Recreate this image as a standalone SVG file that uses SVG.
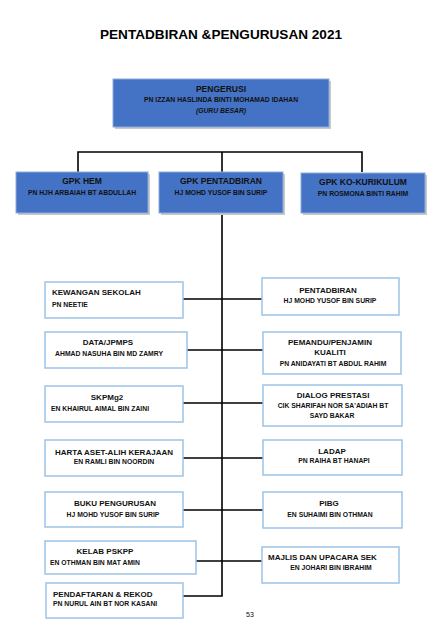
<svg xmlns="http://www.w3.org/2000/svg" width="432" height="635" viewBox="0 0 432 635">
<style>
text{font-family:"Liberation Sans",Arial,sans-serif;fill:#111;font-weight:bold}
.t{font-size:12.5px;fill:#000}
.h{font-size:8px}
.hb{font-size:8.5px}
.n{font-size:6.8px}
.m{text-anchor:middle}
.i{font-style:italic}
.blue{fill:#4472C4;stroke:#8EAADB;stroke-width:1}
.sh{fill:#c9c9c9}
.box{fill:#fff;stroke:#9DC3E6;stroke-width:1.5}
.ln{stroke:#000;stroke-width:1.6;fill:none}
.pg{font-size:7px;font-weight:normal}
</style>
<rect width="432" height="635" fill="#fff"/>
<text class="t m" x="221" y="39" textLength="242" lengthAdjust="spacingAndGlyphs">PENTADBIRAN &amp;PENGURUSAN 2021</text>

<g id="connectors">
<path class="ln" d="M78 172V152H362V172M222 152V172"/>
<path class="ln" d="M222 213V596H183"/>
<path class="ln" d="M183 299H262M187 350H263M183 403H263M183 458H263M183 510H263M196 561H262"/>
</g>

<g id="pengerusi">
<rect class="sh" x="115" y="81" width="216" height="48"/>
<rect class="blue" x="113" y="79" width="216" height="48"/>
<text class="hb m" x="221" y="92">PENGERUSI</text>
<text class="n m" x="221" y="102">PN IZZAN HASLINDA BINTI MOHAMAD IDAHAN</text>
<text class="n m i" x="221" y="113">(GURU BESAR)</text>
</g>

<g id="gpk-hem">
<rect class="sh" x="18" y="174" width="132" height="41"/>
<rect class="blue" x="16" y="172" width="132" height="41"/>
<text class="hb m" x="82" y="184">GPK HEM</text>
<text class="n m" x="82" y="195">PN HJH ARBAIAH BT ABDULLAH</text>
</g>

<g id="gpk-pentadbiran">
<rect class="sh" x="161" y="174" width="124" height="41"/>
<rect class="blue" x="159" y="172" width="124" height="41"/>
<text class="hb m" x="221" y="184">GPK PENTADBIRAN</text>
<text class="n m" x="221" y="195">HJ MOHD YUSOF BIN SURIP</text>
</g>

<g id="gpk-kokurikulum">
<rect class="sh" x="303" y="175" width="124" height="40"/>
<rect class="blue" x="301" y="173" width="124" height="40"/>
<text class="hb m" x="363" y="185">GPK KO-KURIKULUM</text>
<text class="n m" x="363" y="196">PN ROSMONA BINTI RAHIM</text>
</g>

<g id="kewangan">
<rect class="box" x="45" y="282" width="138" height="36"/>
<text class="h" x="52" y="295">KEWANGAN SEKOLAH</text>
<text class="n" x="52" y="307">PN NEETIE</text>
</g>

<g id="data">
<rect class="box" x="45" y="332" width="142" height="36"/>
<text class="h m" x="108" y="345">DATA/JPMPS</text>
<text class="n m" x="109" y="356">AHMAD NASUHA BIN MD ZAMRY</text>
</g>

<g id="skpmg2">
<rect class="box" x="45" y="386" width="138" height="36"/>
<text class="h m" x="107" y="400">SKPMg2</text>
<text class="n" x="51" y="411">EN KHAIRUL AIMAL BIN ZAINI</text>
</g>

<g id="harta">
<rect class="box" x="45" y="440" width="138" height="36"/>
<text class="h m" x="114" y="455">HARTA ASET-ALIH KERAJAAN</text>
<text class="n m" x="114" y="464">EN RAMLI BIN NOORDIN</text>
</g>

<g id="buku">
<rect class="box" x="45" y="492" width="138" height="35"/>
<text class="h m" x="115" y="506">BUKU PENGURUSAN</text>
<text class="n m" x="113" y="517">HJ MOHD YUSOF BIN SURIP</text>
</g>

<g id="kelab">
<rect class="box" x="45" y="541" width="151" height="33"/>
<text class="h m" x="105" y="554">KELAB PSKPP</text>
<text class="n" x="50" y="565">EN OTHMAN BIN MAT AMIN</text>
</g>

<g id="pendaftaran">
<rect class="box" x="46" y="583" width="137" height="35"/>
<text class="h" x="53" y="597">PENDAFTARAN &amp; REKOD</text>
<text class="n" x="53" y="606">PN NURUL AIN BT NOR KASANI</text>
</g>

<g id="pentadbiran">
<rect class="box" x="262" y="278" width="137" height="37"/>
<text class="h m" x="328" y="293">PENTADBIRAN</text>
<text class="n m" x="330" y="303">HJ MOHD YUSOF BIN SURIP</text>
</g>

<g id="pemandu">
<rect class="box" x="263" y="332" width="138" height="42"/>
<text class="h m" x="330" y="345">PEMANDU/PENJAMIN</text>
<text class="h m" x="330" y="355">KUALITI</text>
<text class="n m" x="333" y="366">PN ANIDAYATI BT ABDUL RAHIM</text>
</g>

<g id="dialog">
<rect class="box" x="263" y="385" width="139" height="41"/>
<text class="h m" x="333" y="398">DIALOG PRESTASI</text>
<text class="n m" x="333" y="408">CIK SHARIFAH NOR SA'ADIAH BT</text>
<text class="n m" x="332" y="418">SAYD BAKAR</text>
</g>

<g id="ladap">
<rect class="box" x="263" y="440" width="139" height="35"/>
<text class="h m" x="332" y="454">LADAP</text>
<text class="n m" x="334" y="463">PN RAIHA BT HANAPI</text>
</g>

<g id="pibg">
<rect class="box" x="263" y="492" width="139" height="36"/>
<text class="h m" x="329" y="506">PIBG</text>
<text class="n m" x="330" y="517">EN SUHAIMI BIN OTHMAN</text>
</g>

<g id="majlis">
<rect class="box" x="262" y="547" width="137" height="36"/>
<text class="h" x="268" y="560">MAJLIS DAN UPACARA SEK</text>
<text class="n m" x="331" y="570">EN JOHARI BIN IBRAHIM</text>
</g>

<text class="pg" x="246" y="617">53</text>
</svg>
